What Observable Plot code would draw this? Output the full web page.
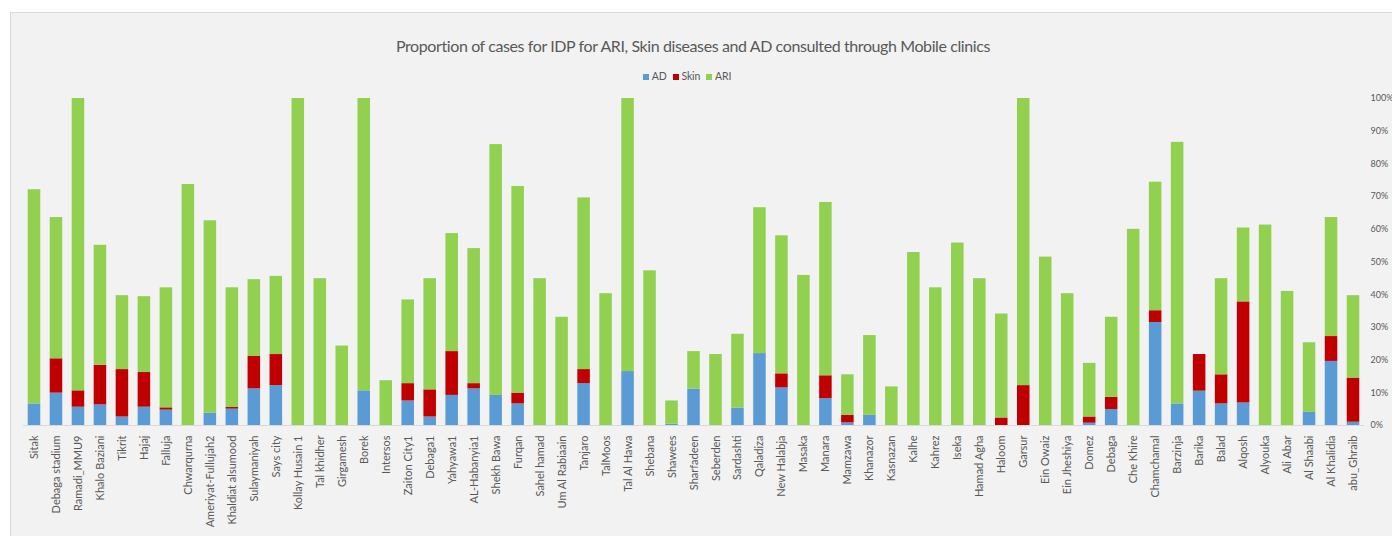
<!DOCTYPE html>
<html><head><meta charset="utf-8">
<script src="https://cdn.jsdelivr.net/npm/d3@7"></script>
<script src="https://cdn.jsdelivr.net/npm/@observablehq/plot@0.6"></script>
<style>
html,body{margin:0;padding:0;background:#fff;width:1392px;height:536px;overflow:hidden;font-family:Lato,sans-serif}
#box{position:absolute;left:10px;top:12px;width:1400px;height:540px;background:#f2f2f2;border:1px solid #d9d9d9;box-sizing:border-box}
#title{position:absolute;left:0;width:1386px;top:35px;line-height:22px;text-align:center;font-size:16px;letter-spacing:-0.4px;color:#595959}
#legend{position:absolute;left:0;width:1374px;top:69px;line-height:14px;text-align:center;font-size:10.5px;letter-spacing:-0.2px;color:#595959}
#legend span{display:inline-block;margin:0 3px}
#legend i{display:inline-block;width:6px;height:6px;margin-right:3px;vertical-align:0px}
#chart{position:absolute;left:0;top:0}
</style></head>
<body>
<div id="box"></div>
<div id="title">Proportion of cases for IDP for ARI, Skin diseases and AD consulted through Mobile clinics</div>
<div id="legend"></div>
<div id="chart"></div>
<script>
const sites = ["Sitak","Debaga stadium","Ramadi_MMU9","Khalo Baziani","Tikrit","Hajaj","Falluja","Chwarqurna","Ameriyat-Fullujah2","Khaldiat alsumood","Sulaymaniyah","Says city","Kollay Husain 1","Tal khidher","Girgamesh","Borek","Intersos","Zaiton City1","Debaga1","Yahyawa1","AL-Habanyia1","Shekh Bawa","Furqan","Sahel hamad","Um Al Rabiaain","Tanjaro","TalMoos","Tal Al Hawa","Shebana","Shawees","Sharfadeen","Seberden","Sardashti","Qaladiza","New Halabja","Masaka","Manara","Mamzawa","Khanazor","Kasnazan","Kalhe","Kahrez","Iseka","Hamad Agha","Haloom","Garsur","Ein Owaiz","Ein Jheshiya","Domez","Debaga","Che Khire","Chamchamal","Barzinja","Barika","Balad","Alqosh","Alyouka","Ali Abar","Al Shaabi","Al Khalidia","abu_Ghraib"];
const AD   = [6.6,9.9,5.6,6.3,2.6,5.6,4.7,0,3.8,5.0,11.2,12.2,0,0,0,10.6,0,7.5,2.6,9.2,11.2,9.2,6.6,0,0,12.8,0,16.5,0,0.4,11.1,0,5.3,22.0,11.5,0,8.2,0.8,3.1,0,0,0,0,0,0,0,0,0,0.7,4.9,0,31.5,6.6,10.5,6.6,6.9,0,0,4.0,19.6,1.0];
const Skin = [0,10.5,5.0,12.1,14.5,10.6,0.7,0,0,0.5,9.9,9.5,0,0,0,0,0,5.3,8.3,13.4,1.6,0,3.3,0,0,4.3,0,0,0,0,0,0,0,0,4.3,0,7.0,2.3,0,0,0,0,0,0,2.3,12.2,0,0,1.9,3.7,0,3.6,0,11.2,8.9,30.9,0,0,0,7.6,13.5];
const ARI  = [65.5,43.2,89.4,36.7,22.6,23.2,36.7,73.7,58.8,36.6,23.5,23.9,100,44.9,24.3,89.4,13.7,25.6,34.0,36.1,41.3,76.7,63.2,44.9,33.1,52.5,40.3,83.5,47.3,7.1,11.5,21.7,22.6,44.6,42.2,45.9,53.0,12.4,24.4,11.8,52.9,42.1,55.8,44.9,31.8,87.8,51.5,40.3,16.4,24.5,60.0,39.3,80.0,0,29.4,22.6,61.3,41.0,21.3,36.4,25.2];
const seriesNames = ["AD","Skin","ARI"];
const seriesColors = ["#5B9BD5","#C00000","#92D050"];
const yTicks = [0,10,20,30,40,50,60,70,80,90,100];

const rows = [];
sites.forEach((s,i)=>{
  rows.push({site:s, disease:"AD", value:AD[i]});
  rows.push({site:s, disease:"Skin", value:Skin[i]});
  rows.push({site:s, disease:"ARI", value:ARI[i]});
});

const lg = document.getElementById("legend");
seriesNames.forEach((n,i)=>{
  const sp = document.createElement("span");
  sp.innerHTML = `<i style="background:${seriesColors[i]}"></i>${n}`;
  lg.appendChild(sp);
});

const chart = Plot.plot({
  width: 1392, height: 536,
  marginTop: 98, marginBottom: 111, marginLeft: 23, marginRight: 28,
  style: {background: "transparent", fontFamily: "Lato, sans-serif", fontSize: "11px", color: "#595959"},
  x: {domain: sites, paddingInner: 0.43, paddingOuter: 0.215, label: null},
  y: {domain: [0,100], label: null},
  color: {domain: seriesNames, range: seriesColors},
  marks: [
    Plot.barY(rows, Plot.stackY({x:"site", y:"value", fill:"disease", order: null})),
    Plot.ruleY([0], {stroke:"#d9d9d9", strokeWidth:1}),
    Plot.axisY(yTicks, {anchor:"right", tickSize:0, tickPadding:6, fontSize:9, tickFormat: d => d + "%", label:null, fill:"#595959"}),
    Plot.axisX({tickSize:0, tickPadding:10, tickRotate:-90, label:null, fill:"#595959"})
  ]
});
document.getElementById("chart").appendChild(chart);
</script>
</body></html>
